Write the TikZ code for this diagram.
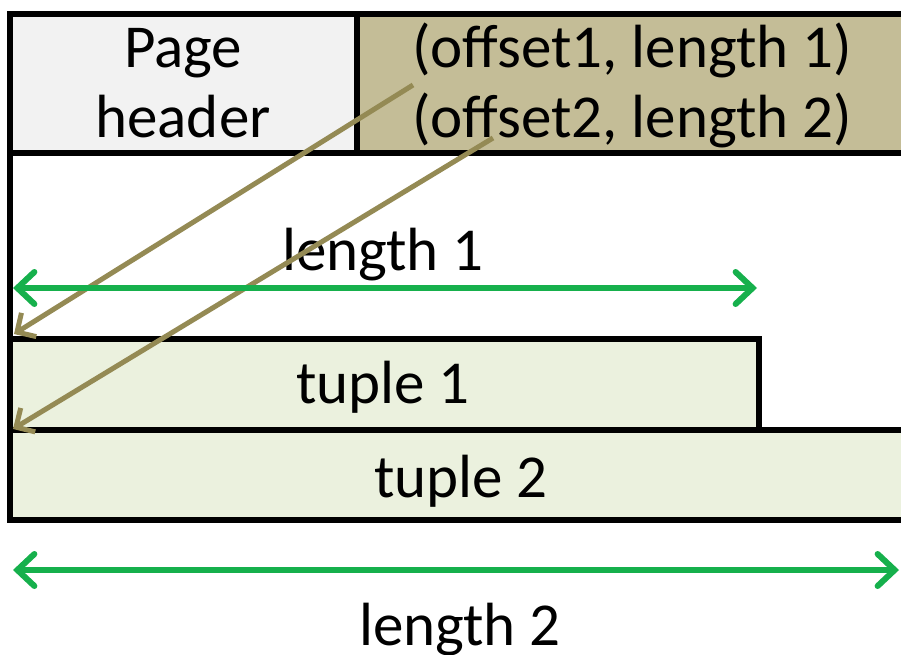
\documentclass[tikz,border=0pt]{standalone}
\usepackage{fontspec}
\setmainfont{Carlito}
\usetikzlibrary{arrows.meta}
\definecolor{hdrgray}{HTML}{F2F2F2}
\definecolor{khaki}{HTML}{C4BD97}
\definecolor{tuplefill}{HTML}{EBF1DE}
\definecolor{dimgreen}{HTML}{16B04C}
\definecolor{ptrbrown}{HTML}{948A54}
\begin{document}
\begin{tikzpicture}[x=1pt,y=-1pt,
  lbl/.style={font=\fontsize{61}{72}\selectfont, anchor=base, inner sep=0pt},
  frame/.style={draw=black, line width=6pt},
  dimline/.style={draw=dimgreen, line width=6pt, line cap=round,
    {Straight Barb[length=17pt,width=32pt,line cap=round]}-{Straight Barb[length=17pt,width=32pt,line cap=round]}},
  ptr/.style={draw=ptrbrown, line width=5pt,
    -{Straight Barb[length=14pt,width=28pt]}}]
\useasboundingbox (0,0) rectangle (901,655);
\clip (0,0) rectangle (901,655);
% boxes
\path[frame, fill=hdrgray] (10,14) rectangle (357,153);
\path[frame, fill=khaki] (357,14) rectangle (930,153);
\path[frame] (10,153) -- (10,339);
\path[frame, fill=tuplefill] (10,339) rectangle (759,430);
\path[frame, fill=tuplefill] (10,430) rectangle (930,520);
% texts
\node[lbl] (ph1) at (183,68) {Page};
\node[lbl] (ph2) at (183,138) {header};
\node[lbl] (off1) at (632,68) {(offset1, length 1)};
\node[lbl] (off2) at (632,138) {(offset2, length 2)};
\node[lbl] (len1) at (383,270) {length 1};
\node[lbl] (tup1) at (383,403) {tuple 1};
\node[lbl] (tup2) at (461,497) {tuple 2};
\node[lbl] (len2) at (460,645) {length 2};
% coordinates
\coordinate (p1s) at (413,85);
\coordinate (p1e) at (14,334);
\coordinate (p2s) at (493,138);
\coordinate (p2e) at (13,429);
\coordinate (l1a) at (13,288);
\coordinate (l1b) at (757,288);
\coordinate (l2a) at (13,570);
\coordinate (l2b) at (899,570);
% arrows
\draw[ptr] (p1s) -- (p1e);
\draw[ptr] (p2s) -- (p2e);
\draw[dimline] (l1a) -- (l1b);
\draw[dimline] (l2a) -- (l2b);
\end{tikzpicture}
\end{document}
